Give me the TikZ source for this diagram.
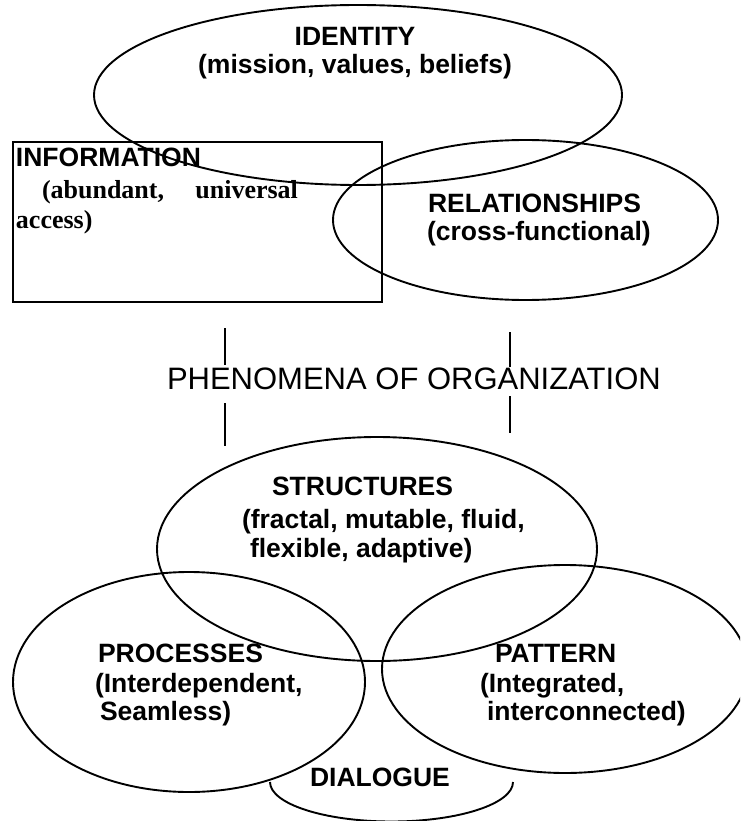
\documentclass[tikz,border=0pt]{standalone}
\usepackage{fontspec}
\setmainfont{Liberation Sans}
\newfontfamily\timesfont{Liberation Serif}
\usetikzlibrary{shapes.geometric}
\tikzset{
  oval/.style={draw, ellipse, line width=1.9pt, inner sep=0pt, outer sep=0pt},
  box/.style={draw, rectangle, line width=1.9pt, inner sep=0pt, outer sep=0pt},
  lbl/.style={inner sep=0pt, outer sep=0pt, font=\fontsize{26.5}{29}\selectfont\bfseries},
  serlbl/.style={inner sep=0pt, outer sep=0pt, font=\timesfont\fontsize{26}{30}\selectfont\bfseries},
  biglbl/.style={inner sep=0pt, outer sep=0pt, font=\fontsize{31}{34}\selectfont},
  tick/.style={line width=1.9pt},
}
\begin{document}
\begin{tikzpicture}[x=1pt,y=-1pt]
\clip (0,0) rectangle (740,821);
\fill[white] (0,0) rectangle (740,821);
% shapes
\node[oval, minimum width=528pt, minimum height=180pt] (identity) at (358,95) {};
\node[box, minimum width=369pt, minimum height=160pt, anchor=north west] (information) at (13,142) {};
\node[oval, minimum width=385pt, minimum height=160pt] (relationships) at (525.5,220) {};
\node[oval, minimum width=440pt, minimum height=224pt] (structures) at (377,549) {};
\node[oval, minimum width=352pt, minimum height=220pt] (processes) at (189,682) {};
\node[oval, minimum width=366pt, minimum height=208pt] (pattern) at (565,669) {};
\coordinate (dialL) at (270,782);
\draw[tick] (dialL) arc[start angle=180, end angle=360, x radius=121.5pt, y radius=39.5pt] coordinate (dialR);
% vertical strokes
\coordinate (a1) at (225,328); \coordinate (a2) at (225,365);
\coordinate (a3) at (225,403); \coordinate (a4) at (225,446);
\coordinate (b1) at (510,332); \coordinate (b2) at (510,367);
\coordinate (b3) at (510,396); \coordinate (b4) at (510,433);
\draw[tick] (a1) -- (a2);
\draw[tick] (a3) -- (a4);
\draw[tick] (b1) -- (b2);
\draw[tick] (b3) -- (b4);
% texts
\node[lbl, anchor=base] (id1) at (355,46) {IDENTITY};
\node[lbl, anchor=base] (id2) at (355,74) {(mission, values, beliefs)};
\node[lbl, anchor=base west] (info1) at (16,167) {INFORMATION};
\node[serlbl, anchor=base west] (info2) at (16,198) {\parbox[t]{282pt}{\hyphenpenalty=10000\hspace*{26pt}(abundant,\hfill universal\\access)}};
\node[lbl, anchor=base west] (rel1) at (428,212) {RELATIONSHIPS};
\node[lbl, anchor=base west] (rel2) at (427,240) {(cross-functional)};
\node[biglbl, anchor=base west] (phen) at (167,389) {PHENOMENA OF ORGANIZATION};
\node[lbl, anchor=base west] (str1) at (272,495) {STRUCTURES};
\node[lbl, anchor=base west] (str2) at (242,528) {(fractal, mutable, fluid,};
\node[lbl, anchor=base west] (str3) at (250,557) {flexible, adaptive)};
\node[lbl, anchor=base west] (proc1) at (98,662) {PROCESSES};
\node[lbl, anchor=base west] (proc2) at (95,692) {(Interdependent,};
\node[lbl, anchor=base west] (proc3) at (100,720) {Seamless)};
\node[lbl, anchor=base west] (pat1) at (495,662) {PATTERN};
\node[lbl, anchor=base west] (pat2) at (480,692) {(Integrated,};
\node[lbl, anchor=base west] (pat3) at (487,720) {interconnected)};
\node[lbl, anchor=base west] (dia) at (310,786) {DIALOGUE};
\end{tikzpicture}
\end{document}
